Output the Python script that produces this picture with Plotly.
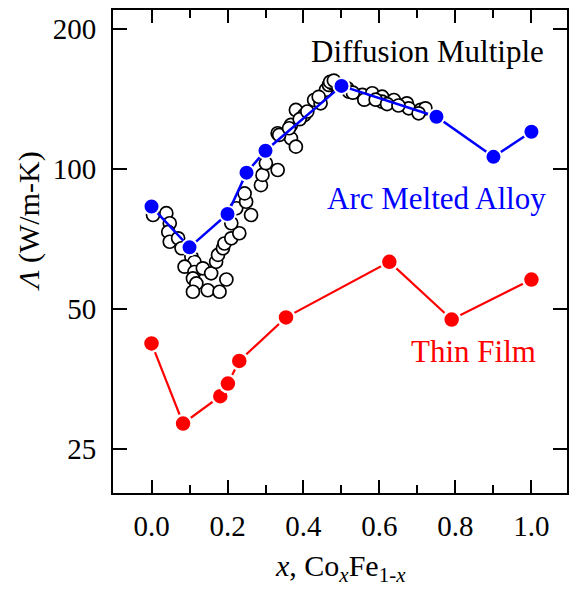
import math
import plotly.graph_objects as go

# Diffusion multiple (open circles): composition x and conductivity (W/m-K)
dm_x = [0.004, 0.039, 0.048, 0.044, 0.048, 0.070, 0.079, 0.105, 0.113, 0.087,
        0.113, 0.109, 0.118, 0.109, 0.148, 0.179, 0.135, 0.157, 0.197, 0.170,
        0.175, 0.188, 0.192, 0.210, 0.231, 0.210, 0.223, 0.249, 0.262, 0.245,
        0.288, 0.292, 0.301, 0.332, 0.332, 0.367, 0.380, 0.367, 0.336, 0.362,
        0.380, 0.402, 0.428, 0.445, 0.459, 0.467, 0.476, 0.489, 0.515, 0.520,
        0.555, 0.581, 0.607, 0.607, 0.638, 0.672, 0.677, 0.708, 0.721, 0.703,
        0.390, 0.410, 0.440, 0.470, 0.480, 0.530, 0.560, 0.590, 0.620, 0.650]
dm_y = [79.6, 80.3, 76.4, 73.2, 69.7, 70.9, 67.5, 64.7, 63.1, 61.6,
        60.0, 58.1, 56.7, 54.4, 54.8, 54.4, 61.1, 59.6, 57.8, 63.1,
        65.3, 67.5, 69.1, 70.9, 72.7, 76.4, 82.3, 85.0, 79.6, 88.6,
        92.3, 97.1, 102.9, 99.5, 119.4, 116.4, 111.7, 124.4, 118.4, 122.4,
        134.0, 130.7, 140.8, 138.5, 148.0, 151.7, 152.9, 151.7, 149.2, 146.7,
        144.4, 145.6, 143.1, 139.6, 140.8, 138.5, 135.1, 134.0, 135.1, 131.8,
        128.0, 133.0, 143.0, 154.0, 155.0, 146.0, 141.0, 141.0, 138.0, 137.0]

# Arc melted alloys
arc_x = [0.0, 0.1, 0.2, 0.25, 0.3, 0.5, 0.75, 0.9, 1.0]
arc_y = [83.0, 67.8, 80.0, 98.2, 109.5, 151.0, 129.6, 106.2, 120.3]

# Thin films
film_x = [0.0, 0.083, 0.181, 0.201, 0.231, 0.354, 0.626, 0.790, 1.0]
film_y = [42.1, 28.3, 32.4, 34.5, 38.6, 47.9, 63.1, 47.4, 57.8]

x_ticks = [0.0, 0.2, 0.4, 0.6, 0.8, 1.0]
x_tick_text = ["0.0", "0.2", "0.4", "0.6", "0.8", "1.0"]
y_ticks = [25, 50, 100, 200]
y_tick_text = ["25", "50", "100", "200"]

FONT = "Liberation Serif"

fig = go.Figure()

fig.add_trace(go.Scatter(
    x=dm_x, y=dm_y, mode="markers",
    marker=dict(symbol="circle", size=13, color="white",
                line=dict(color="black", width=1.7)),
    showlegend=False,
))
fig.add_trace(go.Scatter(
    x=arc_x, y=arc_y, mode="lines+markers",
    line=dict(color="#0000ff", width=2.5),
    marker=dict(size=16, color="#0000ff", line=dict(color="white", width=2)),
    showlegend=False,
))
fig.add_trace(go.Scatter(
    x=film_x, y=film_y, mode="lines+markers",
    line=dict(color="#ff0000", width=2.2),
    marker=dict(size=17, color="#ff0000", line=dict(color="white", width=2.5)),
    showlegend=False,
))

axis_common = dict(
    showline=True, linewidth=2, linecolor="black", mirror="allticks",
    ticks="inside", tickwidth=2, tickcolor="black",
    showgrid=False, zeroline=False,
    tickfont=dict(family=FONT, size=29, color="black"),
)

fig.update_xaxes(
    range=[-0.1014, 1.0936], tickvals=x_ticks, ticktext=x_tick_text,
    ticklen=13, ticklabelstandoff=6,
    minor=dict(dtick=0.1, tick0=0.1, ticks="inside", ticklen=8,
               tickwidth=2, tickcolor="black", showgrid=False),
    **axis_common,
)
fig.update_yaxes(
    type="log", range=[math.log10(20.05), math.log10(220)],
    tickvals=y_ticks, ticktext=y_tick_text,
    ticklen=14, ticklabelstandoff=9,
    **axis_common,
)

fig.add_annotation(text="Diffusion Multiple", xref="paper", yref="paper",
                   x=0.954, y=0.915, xanchor="right", yanchor="middle",
                   showarrow=False, font=dict(family=FONT, size=31, color="black"))
fig.add_annotation(text="Arc Melted Alloy", xref="paper", yref="paper",
                   x=0.958, y=0.610, xanchor="right", yanchor="middle",
                   showarrow=False, font=dict(family=FONT, size=31, color="#0000ff"))
fig.add_annotation(text="Thin Film", xref="paper", yref="paper",
                   x=0.936, y=0.292, xanchor="right", yanchor="middle",
                   showarrow=False, font=dict(family=FONT, size=31, color="#ff0000"))

fig.add_annotation(text="<i>Λ</i> (W/m-K)", xref="paper", yref="paper",
                   x=-0.186, y=0.561, xanchor="center", yanchor="middle",
                   textangle=-90, showarrow=False,
                   font=dict(family=FONT, size=30, color="black"))
fig.add_annotation(text="<i>x</i>, Co<sub><i>x</i></sub>Fe<sub>1-<i>x</i></sub>",
                   xref="paper", yref="paper",
                   x=0.5, y=-0.155, xanchor="center", yanchor="middle",
                   showarrow=False, font=dict(family=FONT, size=30, color="black"))

fig.update_layout(
    width=569, height=592,
    margin=dict(l=113, r=0, t=10, b=99),
    paper_bgcolor="white", plot_bgcolor="white",
    font=dict(family=FONT, color="black"),
)

fig.write_html("out.html")
